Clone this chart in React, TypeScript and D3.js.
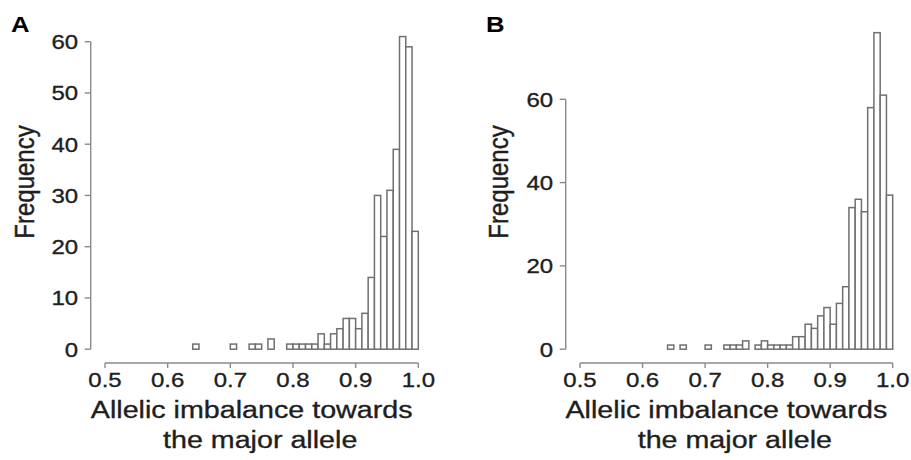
import React, { useEffect, useRef } from 'react'
import * as d3 from 'd3'

// histogram bins: 0.50 .. 1.00, width 0.01 (50 bins)
const binStart = 0.5
const binWidth = 0.01

const countsA = [
  0, 0, 0, 0, 0, 0, 0, 0, 0, 0,
  0, 0, 0, 0, 1, 0, 0, 0, 0, 0,
  1, 0, 0, 1, 1, 0, 2, 0, 0, 1,
  1, 1, 1, 1, 3, 1, 3, 4, 6, 6,
  4, 7, 14, 30, 22, 31, 39, 61, 59, 23,
]

const countsB = [
  0, 0, 0, 0, 0, 0, 0, 0, 0, 0,
  0, 0, 0, 0, 1, 0, 1, 0, 0, 0,
  1, 0, 0, 1, 1, 1, 2, 0, 1, 2,
  1, 1, 1, 1, 3, 3, 6, 5, 8, 10,
  6, 11, 15, 34, 36, 33, 58, 76, 61, 37,
]

const xTicks = [0.5, 0.6, 0.7, 0.8, 0.9, 1.0]
const yTicksA = [0, 10, 20, 30, 40, 50, 60]
const yTicksB = [0, 20, 40, 60]

const FONT = '"Liberation Sans", Arial, Helvetica, sans-serif'
const STRETCH = 1.17
const TEXT = '#1e1e1e'
const AXIS = '#8a8a8a'
const BAR = '#707070'

interface PanelSpec {
  letter: string
  counts: number[]
  yTicks: number[]
  x0: number // pixel of 0.5
  x1: number // pixel of 1.0
  yTop: number // pixel of 60
  yAxisX: number
  letterX: number
  freqX: number
}

const panels: PanelSpec[] = [
  { letter: 'A', counts: countsA, yTicks: yTicksA, x0: 105, x1: 418.3, yTop: 41.7, yAxisX: 90.7, letterX: 11, freqX: 33.5 },
  { letter: 'B', counts: countsB, yTicks: yTicksB, x0: 580, x1: 892.7, yTop: 99.3, yAxisX: 565.7, letterX: 486, freqX: 507.5 },
]

export default function App() {
  const svgRef = useRef<SVGSVGElement>(null)

  useEffect(() => {
    if (!svgRef.current) return
    const svg = d3.select(svgRef.current)
    svg.selectAll('*').remove()

    const yZero = 349.2
    const xAxisY = 363

    const addText = (g: any, tx: number, ty: number, size: number, str: string, anchor = 'middle', extra = '') =>
      g.append('text')
        .attr('transform', `translate(${tx},${ty}) scale(${STRETCH},1)${extra}`)
        .attr('text-anchor', anchor)
        .style('font-size', `${size}px`)
        .style('font-family', FONT)
        .style('fill', TEXT)
        .style('stroke', TEXT)
        .style('stroke-width', 0.35)
        .text(str)

    panels.forEach((p) => {
      const g = svg.append('g')
      const x = d3.scaleLinear().domain([0.5, 1.0]).range([p.x0, p.x1])
      const y = d3.scaleLinear().domain([0, 60]).range([yZero, p.yTop])

      const bins = p.counts.map((c, i) => ({ lo: binStart + i * binWidth, hi: binStart + (i + 1) * binWidth, c }))

      // bars (zero bins draw as flat line like R's hist)
      g.selectAll('rect.bar')
        .data(bins)
        .enter()
        .append('rect')
        .attr('x', (d) => x(d.lo))
        .attr('width', (d) => x(d.hi) - x(d.lo))
        .attr('y', (d) => y(d.c))
        .attr('height', (d) => yZero - y(d.c))
        .attr('fill', '#fff')
        .attr('stroke', BAR)
        .attr('stroke-width', 1.5)

      // y axis
      const yt = p.yTicks
      g.append('line')
        .attr('x1', p.yAxisX).attr('x2', p.yAxisX)
        .attr('y1', y(yt[0])).attr('y2', y(yt[yt.length - 1]))
        .attr('stroke', AXIS).attr('stroke-width', 1.4)
      yt.forEach((t) => {
        g.append('line')
          .attr('x1', p.yAxisX - 6).attr('x2', p.yAxisX)
          .attr('y1', y(t)).attr('y2', y(t))
          .attr('stroke', AXIS).attr('stroke-width', 1.4)
        addText(g, p.yAxisX - 12.5, y(t), 20.5, String(t), 'end').attr('dy', '0.36em')
      })

      // x axis
      g.append('line')
        .attr('x1', x(0.5)).attr('x2', x(1.0))
        .attr('y1', xAxisY).attr('y2', xAxisY)
        .attr('stroke', AXIS).attr('stroke-width', 1.4)
      xTicks.forEach((t) => {
        g.append('line')
          .attr('x1', x(t)).attr('x2', x(t))
          .attr('y1', xAxisY).attr('y2', xAxisY + 5)
          .attr('stroke', AXIS).attr('stroke-width', 1.4)
        addText(g, x(t), 387, 20.5, t.toFixed(1))
      })

      // axis titles
      const mid = (x(0.5) + x(1.0)) / 2
      addText(g, mid - 10, 417.5, 24.5, 'Allelic imbalance towards')
      addText(g, mid - 1.5, 447.5, 24.5, 'the major allele')
      addText(g, p.freqX, 182, 24, 'Frequency', 'middle', ' rotate(-90)')

      // panel letter
      g.append('text')
        .attr('transform', `translate(${p.letterX},31.5) scale(${STRETCH},1)`)
        .style('font-size', '22px')
        .style('font-weight', 'bold')
        .style('font-family', FONT)
        .style('fill', '#000')
        .text(p.letter)
    })
  }, [])

  return (
    <svg
      ref={svgRef}
      width={911}
      height={460}
      style={{ position: 'absolute', left: 0, top: 0, background: '#fff' }}
    />
  )
}
